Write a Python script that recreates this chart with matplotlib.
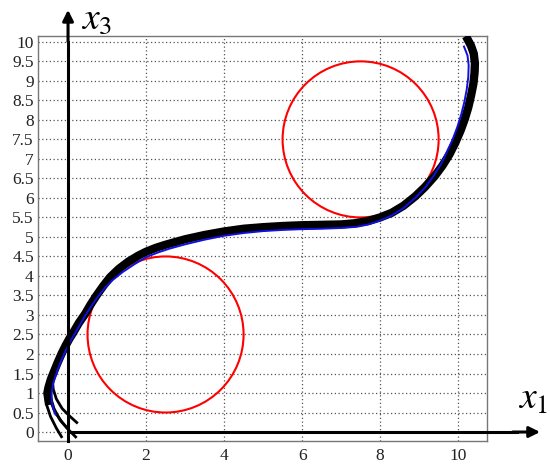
import matplotlib
matplotlib.use("Agg")
import matplotlib.pyplot as plt
from matplotlib.patches import Circle

plt.rcParams['font.family'] = 'serif'
plt.rcParams['font.serif'] = ['Liberation Serif', 'DejaVu Serif']
plt.rcParams['mathtext.fontset'] = 'stix'

# obstacles (centre x, centre y, radius)
obst_x = [2.5, 7.5]
obst_y = [2.5, 7.5]
obst_r = [2.0, 2.0]

# common part of the black trajectories
trunk_x = [-0.5, -0.53, -0.5, -0.44, -0.36, -0.27, -0.16, -0.06, 0.04, 0.14, 0.28, 0.44,
           0.58, 0.73, 0.9, 1.08, 1.3, 1.55, 1.8, 2.0, 2.25, 2.5, 2.75, 3.0, 3.5, 4.0, 4.5,
           5.0, 5.5, 6.0, 6.5, 7.0, 7.35, 7.7, 8.0, 8.3, 8.6, 8.9, 9.15, 9.4, 9.6, 9.78,
           9.93, 10.06, 10.17, 10.26, 10.33, 10.39, 10.42, 10.43, 10.4, 10.33, 10.25]
trunk_y = [0.8, 1.0, 1.15, 1.35, 1.55, 1.77, 2.02, 2.22, 2.4, 2.56, 2.8, 3.03,
           3.27, 3.5, 3.74, 3.97, 4.18, 4.37, 4.52, 4.62, 4.72, 4.8, 4.87, 4.94, 5.05, 5.14,
           5.21, 5.25, 5.28, 5.3, 5.31, 5.32, 5.35, 5.41, 5.5, 5.62, 5.8, 6.04, 6.28, 6.56,
           6.83, 7.12, 7.42, 7.72, 8.02, 8.32, 8.62, 8.92, 9.2, 9.45, 9.7, 9.9, 10.05]

# starting pieces of the black trajectories
start1_x = [-0.15, -0.3, -0.45, -0.55, -0.57, -0.53]
start1_y = [-0.15, 0.1, 0.4, 0.7, 0.95, 1.2]
start2_x = [0.22, 0.02, -0.2, -0.36, -0.45, -0.47]
start2_y = [-0.15, 0.05, 0.3, 0.6, 0.9, 1.15]
start3_x = [0.25, 0.05, -0.15, -0.3, -0.38, -0.4]
start3_y = [0.22, 0.4, 0.6, 0.85, 1.1, 1.35]
start4_x = [0.02, -0.15, -0.33, -0.45, -0.5]
start4_y = [0.05, 0.25, 0.5, 0.8, 1.1]

# end strands at the top
end1_x = [10.39, 10.42, 10.4, 10.33, 10.2]
end1_y = [8.92, 9.3, 9.65, 9.88, 10.1]
end2_x = [10.44, 10.48, 10.46, 10.4, 10.3]
end2_y = [8.92, 9.3, 9.65, 9.87, 10.07]

# blue trajectory
blue_x = [-0.32, -0.38, -0.42, -0.42, -0.38, -0.3, -0.21, -0.1, 0.02, 0.15, 0.3, 0.45,
          0.6, 0.76, 0.95, 1.15, 1.4, 1.7, 2.0, 2.3, 2.6, 3.0, 3.5, 4.0, 4.5, 5.0, 5.5, 6.0,
          6.5, 7.0, 7.4, 7.7, 8.0, 8.3, 8.6, 8.9, 9.15, 9.38, 9.57, 9.72, 9.86, 9.98, 10.08,
          10.16, 10.22, 10.26, 10.27, 10.24, 10.15]
blue_y = [0.45, 0.6, 0.8, 1.0, 1.25, 1.5, 1.75, 2.0, 2.25, 2.48, 2.74, 3.0,
          3.23, 3.46, 3.7, 3.9, 4.1, 4.3, 4.48, 4.6, 4.7, 4.81, 4.93, 5.03, 5.1, 5.15, 5.18,
          5.2, 5.21, 5.23, 5.26, 5.32, 5.42, 5.55, 5.74, 6.0, 6.26, 6.58, 6.88, 7.2, 7.5,
          7.82, 8.14, 8.46, 8.78, 9.1, 9.4, 9.65, 9.88]

x_ticks = [0, 2, 4, 6, 8, 10]
y_ticks = [i * 0.5 for i in range(21)]
y_labels = ['0', '0.5', '1', '1.5', '2', '2.5', '3', '3.5', '4', '4.5', '5', '5.5', '6',
            '6.5', '7', '7.5', '8', '8.5', '9', '9.5', '10']

fig = plt.figure(figsize=(5.5, 4.71), dpi=100)
ax = fig.add_axes([38 / 550, 30 / 471, 449 / 550, 405 / 471])
ax.set_xlim(-0.77, 10.74)
ax.set_ylim(-0.23, 10.15)

ax.set_xticks(x_ticks)
ax.set_xticklabels([str(t) for t in x_ticks])
ax.set_yticks(y_ticks)
ax.set_yticklabels(y_labels)
ax.tick_params(length=0, labelsize=12.5, colors='#222222')
ax.tick_params(axis='x', pad=5)
ax.tick_params(axis='y', pad=3)
ax.grid(True, color='#555555', linestyle=(0, (1, 2)), linewidth=0.9)
for s in ax.spines.values():
    s.set_color('#777777')
    s.set_linewidth(1.0)

for cx, cy, r in zip(obst_x, obst_y, obst_r):
    ax.add_patch(Circle((cx, cy), r, fill=False, edgecolor='red', linewidth=1.5, zorder=3))

for sx, sy in [(start1_x, start1_y), (start2_x, start2_y), (start3_x, start3_y), (start4_x, start4_y)]:
    ax.plot(sx, sy, color='black', lw=2.0, solid_capstyle='butt', zorder=4)
ax.plot(trunk_x, trunk_y, color='black', lw=6.0, solid_joinstyle='round', zorder=4)
ax.plot(end1_x, end1_y, color='black', lw=2.2, zorder=4)
ax.plot(end2_x, end2_y, color='black', lw=2.2, zorder=4)
ax.plot(blue_x, blue_y, color='#1010e0', lw=1.4, zorder=5)

# coordinate axes with arrows
ax.plot([0, 0], [-0.23, 10.0], color='black', lw=2.2, zorder=6, clip_on=False)
ax.plot([0, 11.5], [0, 0], color='black', lw=2.2, zorder=6, clip_on=False)
ax.annotate('', xy=(0, 10.82), xytext=(0, 10.0),
            arrowprops=dict(arrowstyle='-|>', color='black', lw=2.2, mutation_scale=16,
                            shrinkA=0, shrinkB=0), annotation_clip=False)
ax.annotate('', xy=(12.1, 0), xytext=(11.4, 0),
            arrowprops=dict(arrowstyle='-|>', color='black', lw=2.2, mutation_scale=16,
                            shrinkA=0, shrinkB=0), annotation_clip=False)

fig.text(97 / 550, 1 - 20 / 471, '$x_3$', fontsize=27, ha='center', va='center')
fig.text(533 / 550, 1 - 400 / 471, '$x_1$', fontsize=27, ha='center', va='center')

fig.savefig('out.png', dpi=100)
